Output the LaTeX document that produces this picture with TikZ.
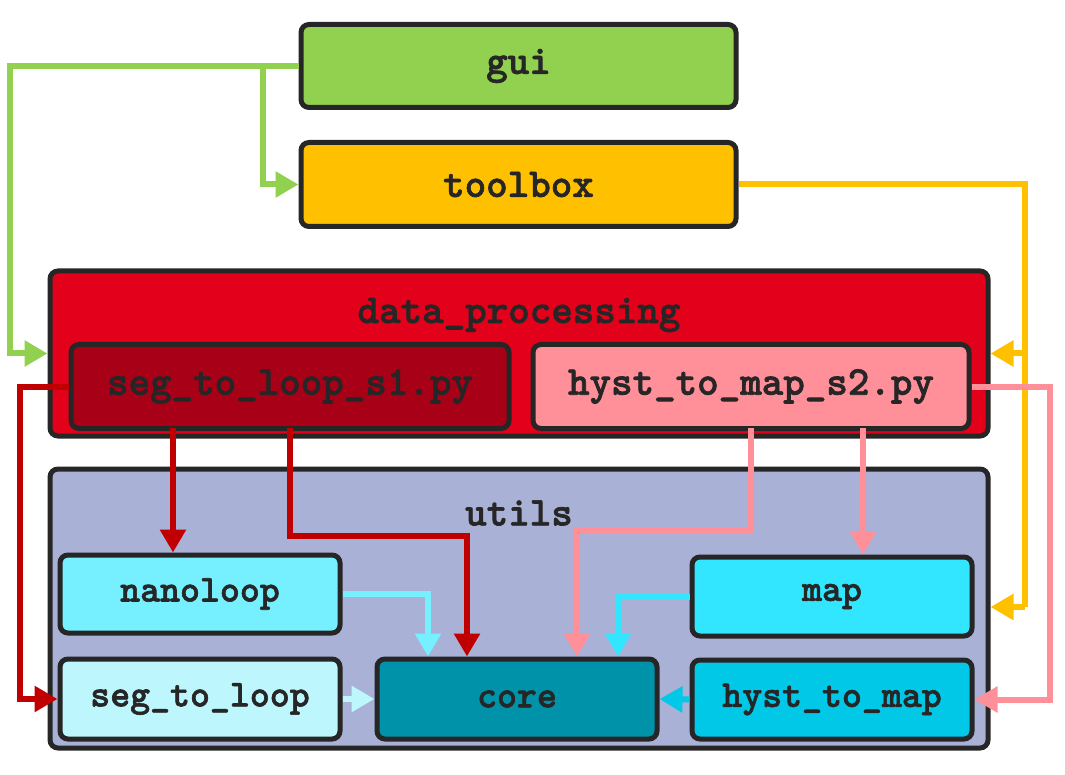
\documentclass[tikz,border=0pt]{standalone}
\usepackage{fontspec}
\newfontfamily\courf{lmmonolt10-bold.otf}[FakeBold=1.6]
\usetikzlibrary{arrows.meta}
\definecolor{ink}{HTML}{262626}
\definecolor{cgui}{HTML}{92D050}
\definecolor{ctool}{HTML}{FFC000}
\definecolor{cdp}{HTML}{E2001A}
\definecolor{cseg}{HTML}{A80017}
\definecolor{chyst}{HTML}{FF8F99}
\definecolor{cutils}{HTML}{A9B1D6}
\definecolor{cnano}{HTML}{76F0FF}
\definecolor{cstl}{HTML}{BDF6FD}
\definecolor{ccore}{HTML}{0092A8}
\definecolor{cmap}{HTML}{33E6FF}
\definecolor{chtm}{HTML}{00C8E6}
\definecolor{cred}{HTML}{C00000}
\tikzset{
  box/.style={draw=ink, line width=5pt, rounded corners=8pt, inner sep=0pt,
    text=ink, font=\courf\fontsize{38}{40}\selectfont},
  bigbox/.style={box, font=\courf\fontsize{41}{44}\selectfont},
  lbl/.style={text=ink, inner sep=0pt, font=\courf\fontsize{41}{44}\selectfont},
  conn/.style={line width=6pt, -{Triangle[length=23pt,width=25pt]}},
  plain/.style={line width=6pt}
}
\begin{document}
\begin{tikzpicture}[x=1pt,y=-1pt]
\useasboundingbox (0,0) rectangle (1065,775);
% groups
\node[box, fill=cdp, minimum width=938pt, minimum height=165pt] (dp) at (519,353.5) {};
\node[lbl] (dplbl) at (519,315) {data\_processing};
\node[box, fill=cutils, minimum width=938pt, minimum height=279pt] (utils) at (519,608.5) {};
\node[lbl] (utlbl) at (519,513) {utils};
% top boxes
\node[bigbox, fill=cgui, minimum width=435pt, minimum height=83pt] (gui) at (518.5,66) {gui};
\node[bigbox, fill=ctool, minimum width=435pt, minimum height=84pt] (tb) at (518.5,184.5) {toolbox};
% data processing children
\node[bigbox, fill=cseg, minimum width=438pt, minimum height=84pt] (s1) at (290,386.5) {seg\_to\_loop\_s1.py};
\node[bigbox, fill=chyst, minimum width=436pt, minimum height=84pt] (s2) at (751,386.5) {hyst\_to\_map\_s2.py};
% utils children
\node[box, fill=cnano, minimum width=280pt, minimum height=78pt] (nano) at (200,594) {nanoloop};
\node[box, fill=cstl, minimum width=280pt, minimum height=80pt] (stl) at (200,699) {seg\_to\_loop};
\node[box, fill=ccore, minimum width=280pt, minimum height=80pt] (core) at (517,699) {core};
\node[box, fill=cmap, minimum width=280pt, minimum height=79pt] (map) at (832,596.5) {map};
\node[box, fill=chtm, minimum width=280pt, minimum height=79pt] (htm) at (832,699.5) {hyst\_to\_map};
% green
\draw[conn, cgui] (gui.west) -- ++(-289,0) |- (dp.west);
\coordinate (g1) at (263,66);
\draw[conn, cgui] (g1) |- (tb.west);
% orange
\draw[plain, ctool] (tb.east) -| (1025,607);
\coordinate (o1) at (1025,353.5);
\coordinate (o2) at (1025,607);
\draw[conn, ctool] (o1) -- (dp.east);
\draw[conn, ctool] (o2) -- (utils.east |- o2);
% dark red
\draw[conn, cred] (s1.west) -- ++(-49,0) |- (stl.west);
\coordinate (r1) at (173,428);
\draw[conn, cred] (r1) -- (nano.north -| r1);
\coordinate (r2) at (290,428);
\draw[conn, cred] (r2) |- (467,536) -- (core.north -| 467,0);
% pink
\coordinate (p1) at (751,428);
\draw[conn, chyst] (p1) |- (577,530) -- (core.north -| 577,0);
\coordinate (p2) at (863,428);
\draw[conn, chyst] (p2) -- (map.north -| p2);
\draw[conn, chyst] (s2.east) -- ++(78,0) |- (htm.east);
% utils internal
\draw[conn, cnano] (nano.east) -| (core.north -| 428,0);
\draw[conn, cmap] (map.west) -| (core.north -| 618,0);
\draw[conn, cstl] (stl.east) -- (core.west);
\draw[conn, chtm] (htm.west) -- (core.east);
\end{tikzpicture}
\end{document}
